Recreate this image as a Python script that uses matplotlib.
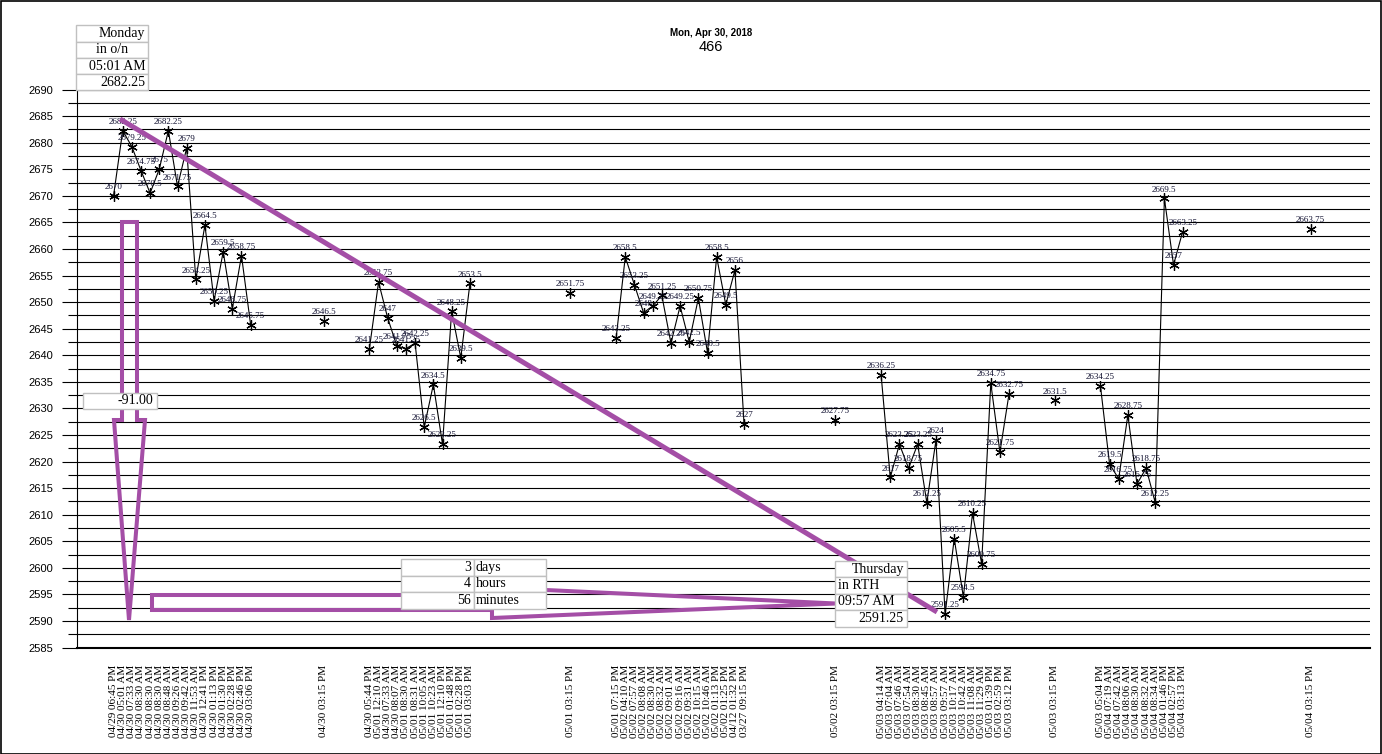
import matplotlib
matplotlib.use('Agg')
import matplotlib.pyplot as plt
import numpy as np
from matplotlib.patches import Rectangle, Polygon
from matplotlib.lines import Line2D

# --- data --------------------------------------------------------------------
g1_times = ['04/29 06:45 PM', '04/30 05:01 AM', '04/30 07:33 AM', '04/30 08:30 AM',
            '04/30 08:30 AM', '04/30 08:30 AM', '04/30 08:48 AM', '04/30 09:26 AM',
            '04/30 09:42 AM', '04/30 11:53 AM', '04/30 12:41 PM', '04/30 01:13 PM',
            '04/30 01:30 PM', '04/30 02:28 PM', '04/30 02:46 PM', '04/30 03:06 PM']
g1_vals = [2670, 2682.25, 2679.25, 2674.75, 2670.5, 2675, 2682.25, 2671.75,
           2679, 2654.25, 2664.5, 2650.25, 2659.5, 2648.75, 2658.75, 2645.75]

g2_times = ['04/30 05:44 PM', '05/01 12:10 AM', '04/30 07:33 AM', '04/30 08:07 AM',
            '05/01 08:30 AM', '05/01 08:31 AM', '05/01 10:05 AM', '05/01 10:23 AM',
            '05/01 12:10 PM', '05/01 01:48 PM', '05/01 02:28 PM', '05/01 03:03 PM']
g2_vals = [2641.25, 2653.75, 2647, 2641.75, 2641.25, 2642.25, 2626.5, 2634.5,
           2623.25, 2648.25, 2639.5, 2653.5]

g3_times = ['05/01 07:15 PM', '05/02 04:10 AM', '05/02 07:57 AM', '05/02 08:08 AM',
            '05/02 08:30 AM', '05/02 08:32 AM', '05/02 09:01 AM', '05/02 09:16 AM',
            '05/02 09:31 AM', '05/02 10:15 AM', '05/02 10:46 AM', '05/02 01:13 PM',
            '05/02 01:25 PM', '04/12 01:32 PM', '03/27 09:15 PM']
g3_vals = [2643.25, 2658.5, 2653.25, 2648, 2649.25, 2651.25, 2642.25, 2649.25,
           2642.5, 2650.75, 2640.5, 2658.5, 2649.5, 2656, 2627]

g4_times = ['05/03 04:14 AM', '05/03 07:04 AM', '05/03 07:46 AM', '05/03 07:54 AM',
            '05/03 08:30 AM', '05/03 08:45 AM', '05/03 08:57 AM', '05/03 09:57 AM',
            '05/03 10:17 AM', '05/03 10:42 AM', '05/03 11:08 AM', '05/03 11:29 AM',
            '05/03 01:39 PM', '05/03 02:59 PM', '05/03 03:12 PM']
g4_vals = [2636.25, 2617, 2623.25, 2618.75, 2623.25, 2612.25, 2624, 2591.25,
           2605.5, 2594.5, 2610.25, 2600.75, 2634.75, 2621.75, 2632.75]

g5_times = ['05/03 05:04 PM', '05/04 07:19 AM', '05/04 07:42 AM', '05/04 08:06 AM',
            '05/04 08:30 AM', '05/04 08:32 AM', '05/04 08:34 AM', '05/04 01:46 PM',
            '05/04 02:57 PM', '05/04 03:13 PM']
g5_vals = [2634.25, 2619.5, 2616.75, 2628.75, 2615.75, 2618.75, 2612.25, 2669.5,
           2657, 2663.25]

close_times = ['04/30 03:15 PM', '05/01 03:15 PM', '05/02 03:15 PM',
               '05/03 03:15 PM', '05/04 03:15 PM']
close_vals = [2646.5, 2651.75, 2627.75, 2631.5, 2663.75]

# empty categories in front of each segment
blanks = [4, 7, 4, 10, 4, 9, 4, 4, 4, 13]

segments = [(g1_times, g1_vals), ([close_times[0]], [close_vals[0]]),
            (g2_times, g2_vals), ([close_times[1]], [close_vals[1]]),
            (g3_times, g3_vals), ([close_times[2]], [close_vals[2]]),
            (g4_times, g4_vals), ([close_times[3]], [close_vals[3]]),
            (g5_times, g5_vals), ([close_times[4]], [close_vals[4]])]

labels = []
values = []
for b, (t, v) in zip(blanks, segments):
    labels += [''] * b
    values += [np.nan] * b
    labels += t
    values += v
labels = np.array(labels)
y = np.array(values, float)
x = np.arange(len(y))
has = ~np.isnan(y)

# --- figure -----------------------------------------------------------------
W, H = 1382, 754
fig = plt.figure(figsize=(W / 100, H / 100), dpi=100)
ax = fig.add_axes([77 / W, 1 - 647.5 / H, (1370 - 77) / W, (647.5 - 89.5) / H])

ax.plot(x, y, color='black', lw=0.8, marker=(6, 2, 0), ms=7.5, mew=0.9,
        mec='black', zorder=3)
for xi, yi in zip(x[has], y[has]):
    ax.annotate('%g' % yi, (xi, yi), xytext=(0, 3.5), textcoords='offset points',
                ha='center', va='bottom', fontsize=6.5, family='Liberation Serif',
                color='#101030', zorder=4)

ax.set_xlim(0, 141.5)
ax.set_ylim(2585, 2690)
ax.set_xticks(x[has])
ax.set_xticklabels(labels[has], rotation=90, fontsize=8, family='Liberation Serif')
ax.set_yticks(np.arange(2585, 2691, 5))
ax.set_yticks(np.arange(2587.5, 2690, 5), minor=True)
for lab in ax.get_yticklabels():
    lab.set_family('Liberation Sans')
    lab.set_fontsize(8)
ax.tick_params(axis='x', length=0, pad=12.6)
ax.tick_params(axis='y', which='major', length=10.8, width=0.8, pad=6.5, direction='out')
ax.tick_params(axis='y', which='minor', length=6.5, width=0.8, direction='out')
ax.grid(True, which='both', axis='y', color='black', lw=0.8)
ax.set_axisbelow(True)
for s in ['top', 'right']:
    ax.spines[s].set_visible(False)
ax.spines['left'].set_linewidth(0.8)
ax.spines['bottom'].set_linewidth(1.5)

fig.text(711 / W, 1 - 33 / H, 'Mon, Apr 30, 2018', ha='center', va='center',
         fontsize=7, fontweight='bold', family='Liberation Sans')
fig.text(711 / W, 1 - 47 / H, '466', ha='center', va='center',
         fontsize=10.5, family='Liberation Sans')


# --- drawn annotations (pixel coordinates of the picture) -------------------
def fp(px, py):
    return px / W, 1 - py / H


purple = '#a44ea6'
(x0, y0), (x1, y1) = fp(120, 119), fp(937, 612)
fig.add_artist(Line2D([x0, x1], [y0, y1], transform=fig.transFigure, color=purple,
                      lw=3.6, solid_capstyle='butt', zorder=5))

down_arrow = [(122, 222), (137, 222), (137, 420), (145, 420), (129, 620),
              (114, 420), (122, 420)]
right_arrow = [(152, 595), (492, 595), (492, 587.5), (836, 603.5), (492, 618),
               (492, 610), (152, 610)]
for shape in (down_arrow, right_arrow):
    fig.add_artist(Polygon([fp(a, b) for a, b in shape], closed=True, fill=False,
                           ec=purple, lw=2.9, joinstyle='miter',
                           transform=fig.transFigure, zorder=5))


def cell(xa, ya, xb, yb):
    fig.add_artist(Rectangle(fp(xa, yb), (xb - xa) / W, (yb - ya) / H,
                             transform=fig.transFigure, fc='white', ec='#c0c0c0',
                             lw=1, zorder=6))


def cell_text(px, py, s, ha):
    fig.text(px / W, 1 - py / H, s, ha=ha, va='center', fontsize=10,
             family='Liberation Serif', zorder=7)


# Monday box
rows = [25, 41.5, 58, 74, 90]
mon = [('Monday', 145, 'right'), ('in o/n', 112, 'center'),
       ('05:01 AM', 146, 'right'), ('2682.25', 145, 'right')]
for i, (s, px, ha) in enumerate(mon):
    cell(76, rows[i], 148, rows[i + 1])
    cell_text(px, (rows[i] + rows[i + 1]) / 2, s, ha)

# difference box
cell(83, 393, 157, 409)
cell_text(153, 401, '-91.00', 'right')

# elapsed time table
rows = [559, 575.5, 592, 608.5]
elapsed = [('3', 'days'), ('4', 'hours'), ('56', 'minutes')]
for i, (n, unit) in enumerate(elapsed):
    cell(401, rows[i], 474, rows[i + 1])
    cell(474, rows[i], 546, rows[i + 1])
    cy = (rows[i] + rows[i + 1]) / 2
    cell_text(471, cy, n, 'right')
    cell_text(476, cy, unit, 'left')

# Thursday box
rows = [561, 577, 593.5, 610, 626.5]
thu = [('Thursday', 904, 'right'), ('in RTH', 838, 'left'),
       ('09:57 AM', 838, 'left'), ('2591.25', 904, 'right')]
for i, (s, px, ha) in enumerate(thu):
    cell(835, rows[i], 907, rows[i + 1])
    cell_text(px, (rows[i] + rows[i + 1]) / 2, s, ha)

fig.add_artist(Rectangle((0.5 / W, 0.5 / H), 1 - 1.5 / W, 1 - 1.5 / H,
                         transform=fig.transFigure, fill=False, ec='black', lw=1.2,
                         zorder=8))

fig.savefig('out.png', dpi=100)
